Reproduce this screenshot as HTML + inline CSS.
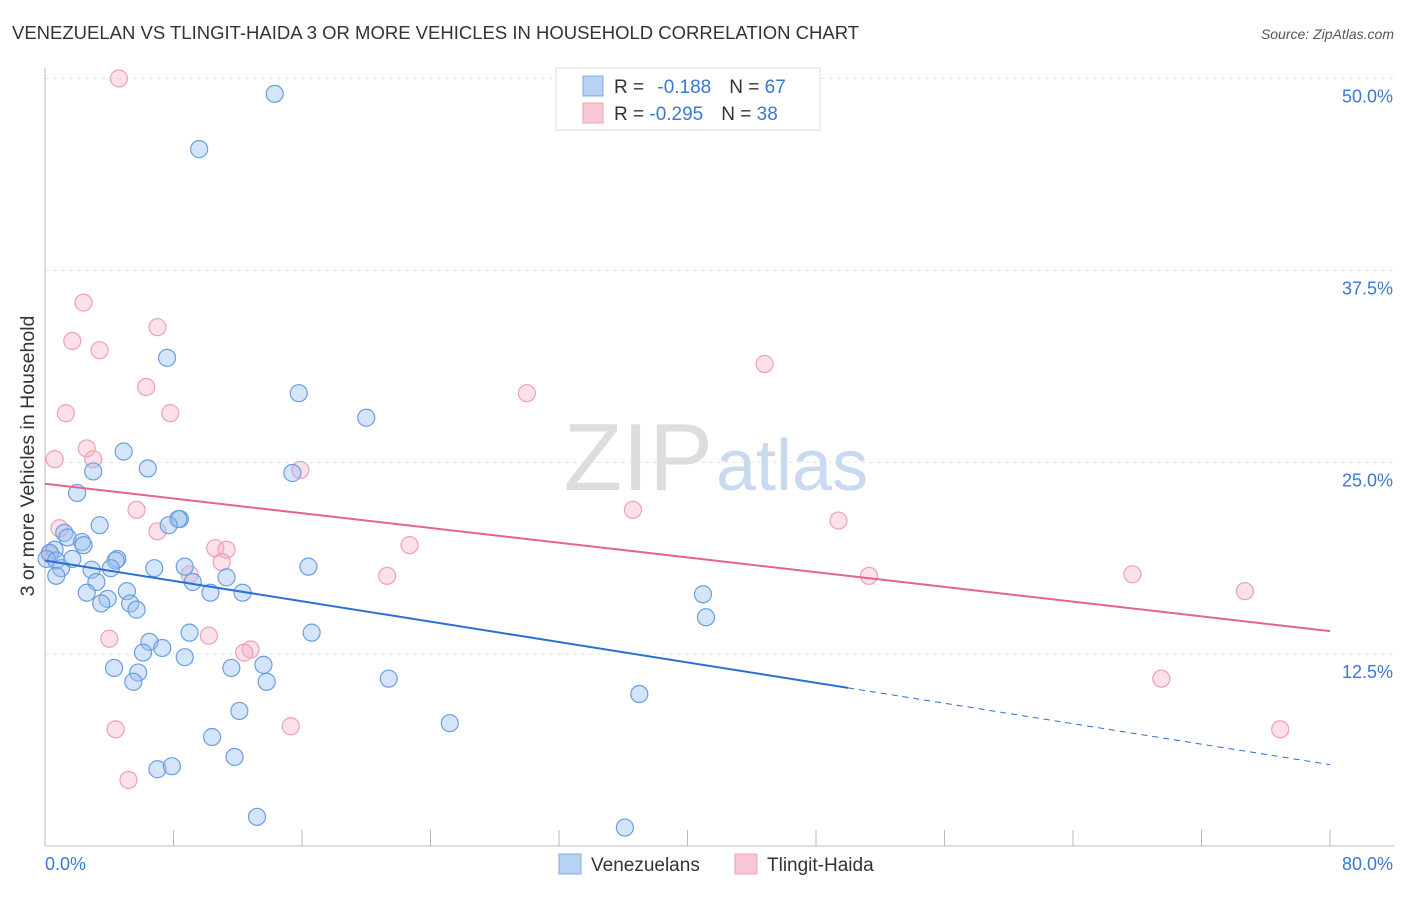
<!DOCTYPE html>
<html><head><meta charset="utf-8"><style>
body{margin:0;background:#fff;font-family:"Liberation Sans",sans-serif;}
svg text{font-family:"Liberation Sans",sans-serif;}
</style></head><body>
<svg id="c" width="1406" height="892">
<text x="12" y="39" font-size="18.5" fill="#333">VENEZUELAN VS TLINGIT-HAIDA 3 OR MORE VEHICLES IN HOUSEHOLD CORRELATION CHART</text>
<text x="1394" y="39" font-size="14" fill="#555" font-style="italic" text-anchor="end">Source: ZipAtlas.com</text>
<text x="0" y="0" transform="translate(34,456) rotate(-90)" font-size="19.5" fill="#333" text-anchor="middle">3 or more Vehicles in Household</text>
<g id="grid"></g>
<text x="713" y="490" font-size="96" fill="#ddd" font-family="Liberation Serif" text-anchor="end">ZIP</text>
<text x="716" y="490" font-size="72" fill="#c9d9ef">atlas</text>
<g id="marks"></g>
<g>
<rect x="556" y="68" width="264" height="62" fill="#fff" stroke="#ddd"/>
<rect x="583" y="76" width="20" height="20" fill="#b8d2f5" stroke="#7ea8e4"/>
<rect x="583" y="103" width="20" height="20" fill="#f9c6d5" stroke="#eea0b8"/>
<text x="614" y="93" font-size="19" fill="#333">R = <tspan fill="#3a78d4" dx="8">-0.188</tspan><tspan fill="#333" dx="18">N = </tspan><tspan fill="#3a78d4">67</tspan></text>
<text x="614" y="120" font-size="19" fill="#333">R = <tspan fill="#3a78d4">-0.295</tspan><tspan fill="#333" dx="18">N = </tspan><tspan fill="#3a78d4">38</tspan></text>
</g>
<g>
<rect x="559" y="854" width="22" height="20" fill="#b8d2f5" stroke="#7ea8e4"/>
<text x="591" y="871" font-size="19" fill="#333">Venezuelans</text>
<rect x="735" y="854" width="22" height="20" fill="#f9c6d5" stroke="#eea0b8"/>
<text x="767" y="871" font-size="19" fill="#333">Tlingit-Haida</text>
</g>
</svg>
<script>
const xTicks=[0,8,16,24,32,40,48,56,64,72,80];
const yTicks=[12.5,25,37.5,50];
const yTickLabels=["12.5%","25.0%","37.5%","50.0%"];
const blueX=[14.3,9.6,7.6,20.0,15.8,4.9,6.4,15.4,3.0,2.0,3.4,8.4,8.3,7.7,1.2,1.4,2.3,2.4,0.6,0.3,0.1,0.7,1.0,1.7,0.7,4.5,4.4,4.1,2.9,6.8,8.7,16.4,11.3,3.2,9.2,2.6,5.1,3.9,3.5,5.3,5.7,10.3,12.3,40.962,41.150,9.0,16.6,6.5,7.3,6.1,8.7,4.3,5.8,11.6,13.6,5.5,13.8,21.4,37.0,12.1,25.2,10.4,11.8,7.0,7.9,13.2,36.1];
const blueY=[49.0,45.4,31.8,27.9,29.5,25.7,24.6,24.3,24.4,23.0,20.9,21.3,21.3,20.9,20.4,20.1,19.8,19.6,19.3,19.1,18.7,18.6,18.1,18.7,17.6,18.7,18.6,18.1,18.0,18.1,18.2,18.2,17.5,17.2,17.2,16.5,16.6,16.1,15.8,15.8,15.4,16.5,16.5,16.4,14.9,13.9,13.9,13.3,12.9,12.6,12.3,11.6,11.3,11.6,11.8,10.7,10.7,10.9,9.9,8.8,8.0,7.1,5.8,5.0,5.2,1.9,1.2];
const pinkX=[4.6,2.4,7.0,1.7,3.4,44.8,6.3,30.0,1.3,7.8,2.6,0.6,3.0,15.9,5.7,36.6,49.4,0.9,7.0,22.7,10.6,11.3,11.0,9.0,21.3,51.3,67.7,74.7,4.0,10.2,12.8,12.4,69.5,4.4,15.3,76.9,5.2,0.3];
const pinkY=[50.0,35.4,33.8,32.9,32.3,31.4,29.9,29.5,28.2,28.2,25.9,25.2,25.2,24.5,21.9,21.9,21.2,20.7,20.5,19.6,19.4,19.3,18.5,17.7,17.6,17.6,17.7,16.6,13.5,13.7,12.8,12.6,10.9,7.6,7.8,7.6,4.3,19.0];
const blueTrend=[[0,18.6],[50,10.3],[80,5.3]];
const pinkTrend=[[0,23.6],[80,14.0]];
const X=v=>45+v/80*1285, Y=v=>846-v/50*767.5;
const NS="http://www.w3.org/2000/svg";
function mk(t,a,p){const e=document.createElementNS(NS,t);for(const k in a)e.setAttribute(k,a[k]);p.appendChild(e);return e;}
const g=document.getElementById('grid'), m=document.getElementById('marks');
yTicks.forEach((t,i)=>{
 const l=mk('line',{x1:45,x2:1394,y1:Y(t),y2:Y(t),stroke:'#e3e3e3','stroke-dasharray':'4,4'},g);
 
 
 const tx=mk('text',{x:1393,y:Y(t)+24,'font-size':18,fill:'#3a78d4','text-anchor':'end'},g);
 tx.textContent=yTickLabels[i];
 
 
});
mk('line',{x1:45,x2:45,y1:68,y2:846,stroke:'#bbb'},g);
mk('line',{x1:45,x2:1394,y1:846,y2:846,stroke:'#bbb'},g);
xTicks.forEach(t=>{const l=mk('line',{x1:X(t),x2:X(t),y1:830,y2:846,stroke:'#bbb'},g);
 
 });
let a=mk('text',{x:45,y:870,'font-size':18,fill:'#3a78d4'},g);a.textContent='0.0%';


a=mk('text',{x:1393,y:870,'font-size':18,fill:'#3a78d4','text-anchor':'end'},g);a.textContent='80.0%';


pinkX.forEach((v,i)=>{const c=mk('circle',{cx:X(v),cy:Y(pinkY[i]),r:8.5,fill:'rgba(246,170,195,0.35)',stroke:'#eea0b8','stroke-width':1.2},m);
 
 });
blueX.forEach((v,i)=>{const c=mk('circle',{cx:X(v),cy:Y(blueY[i]),r:8.5,fill:'rgba(150,190,240,0.4)',stroke:'#6a9ee0','stroke-width':1.2},m);
 
 });
let l=mk('line',{x1:X(blueTrend[0][0]),y1:Y(blueTrend[0][1]),x2:X(blueTrend[1][0]),y2:Y(blueTrend[1][1]),stroke:'#2a6fd6','stroke-width':2},m);


l=mk('line',{x1:X(blueTrend[1][0]),y1:Y(blueTrend[1][1]),x2:X(blueTrend[2][0]),y2:Y(blueTrend[2][1]),stroke:'#2a6fd6','stroke-width':1,'stroke-dasharray':'6,5'},m);


l=mk('line',{x1:X(pinkTrend[0][0]),y1:Y(pinkTrend[0][1]),x2:X(pinkTrend[1][0]),y2:Y(pinkTrend[1][1]),stroke:'#e4638f','stroke-width':2},m);


</script>
</body></html>
